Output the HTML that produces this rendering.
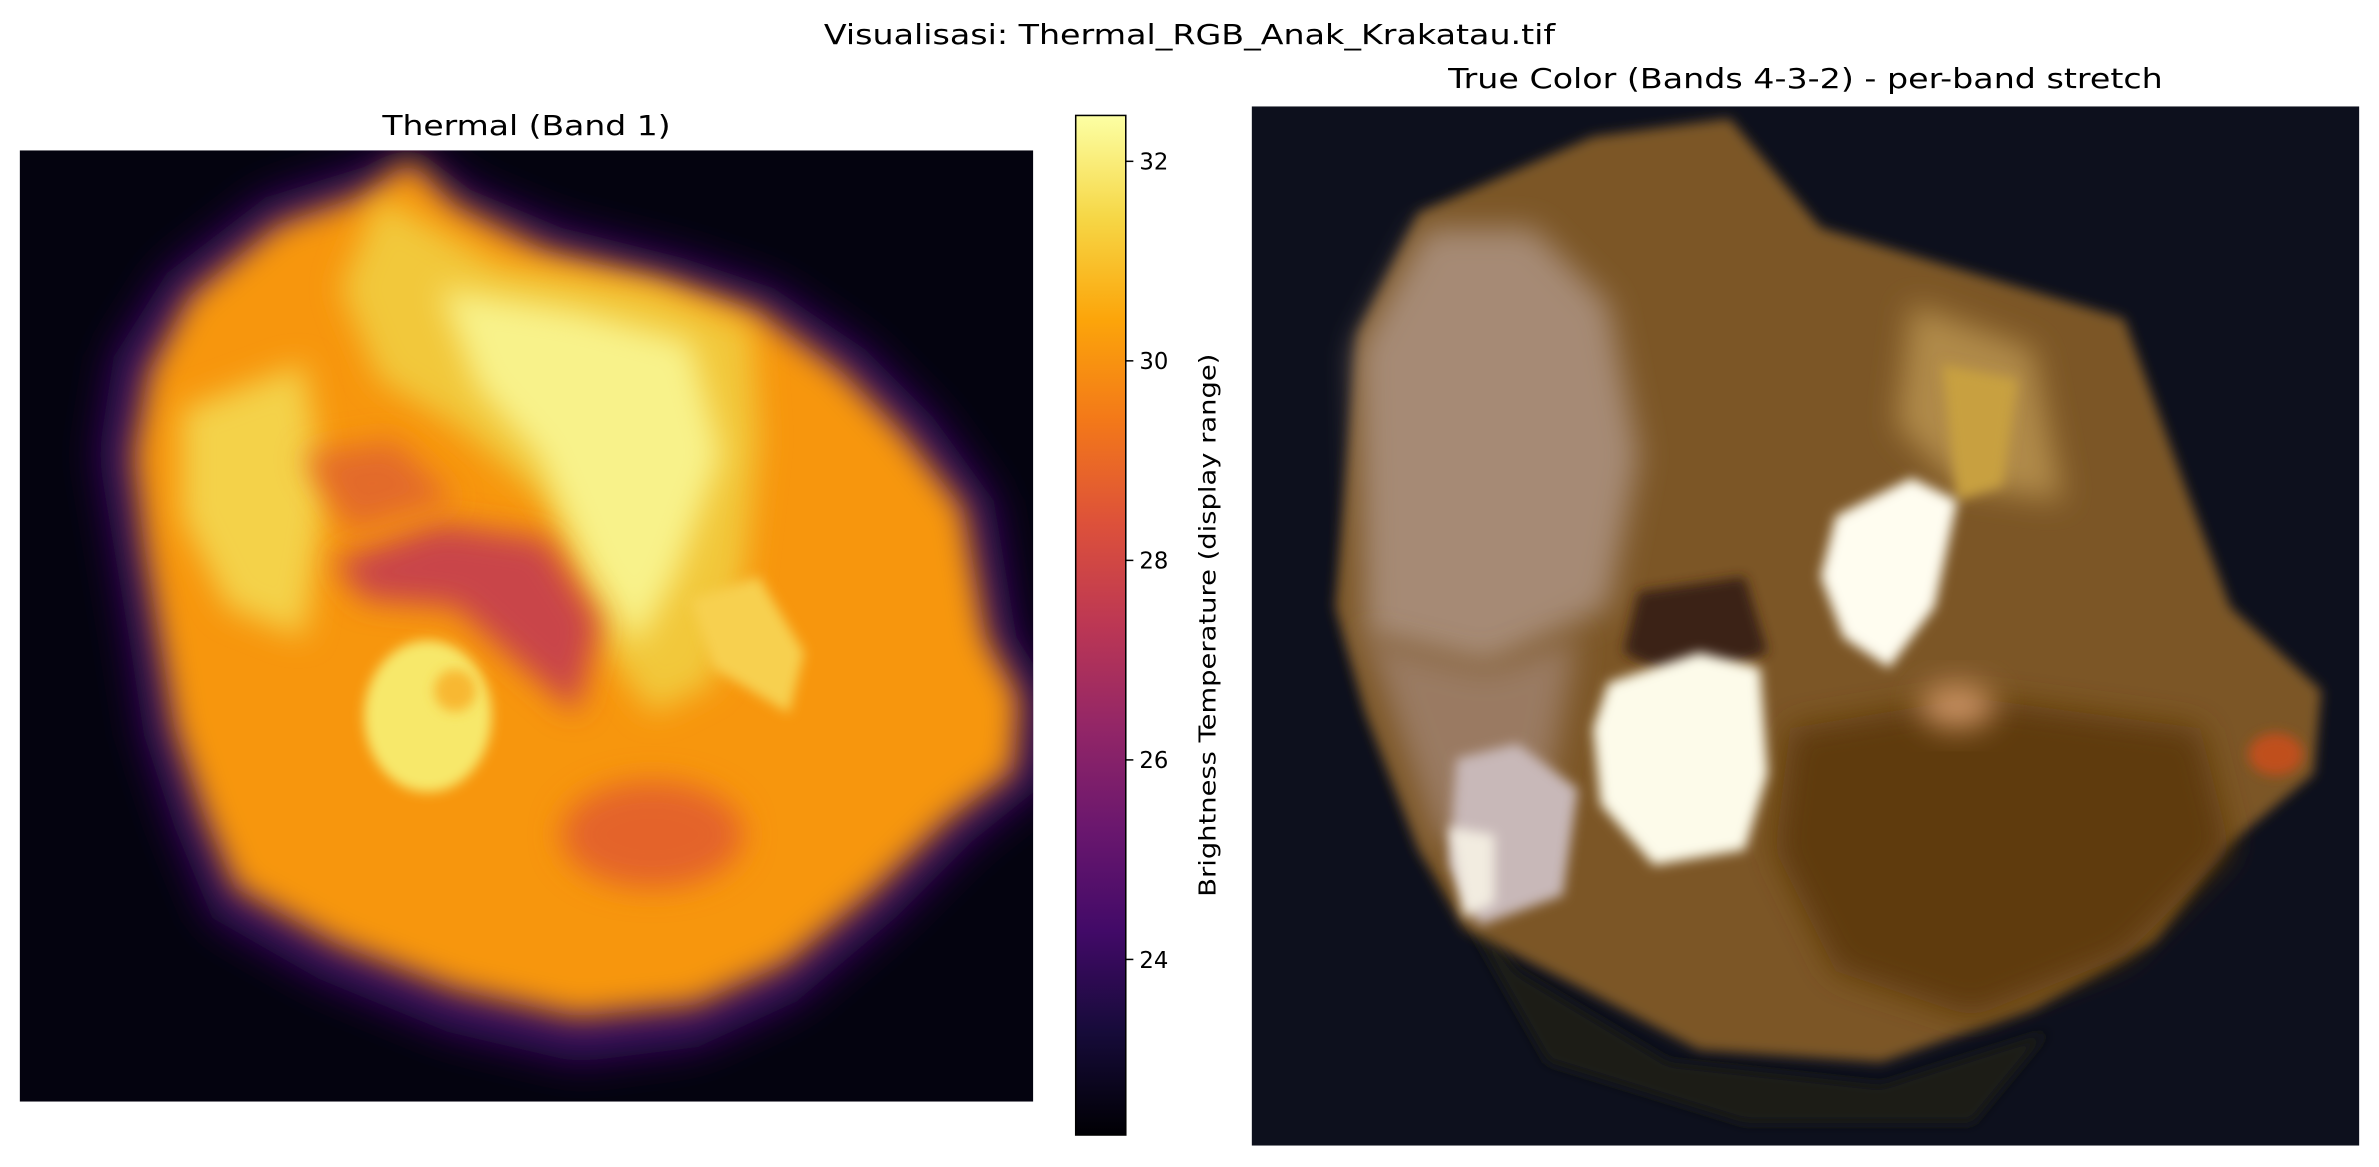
<!DOCTYPE html>
<html><head><meta charset="utf-8"><style>
html,body{margin:0;padding:0;background:#fff;}
svg{display:block;font-family:"DejaVu Sans","Liberation Sans",sans-serif;}
</style></head><body>
<svg id="fig" width="2379" height="1167" viewBox="0 0 1568 769" xmlns="http://www.w3.org/2000/svg">
<defs>
  <linearGradient id="inferno" x1="0" y1="1" x2="0" y2="0">
    <stop offset="0" stop-color="#000004"/><stop offset="0.1" stop-color="#160b39"/>
    <stop offset="0.2" stop-color="#420a68"/><stop offset="0.3" stop-color="#6a176e"/>
    <stop offset="0.4" stop-color="#932667"/><stop offset="0.5" stop-color="#bc3754"/>
    <stop offset="0.6" stop-color="#dd513a"/><stop offset="0.7" stop-color="#f37819"/>
    <stop offset="0.8" stop-color="#fca50a"/><stop offset="0.9" stop-color="#f6d746"/>
    <stop offset="1" stop-color="#fcffa4"/>
  </linearGradient>
  <filter id="b12" x="-50%" y="-50%" width="200%" height="200%"><feGaussianBlur stdDeviation="10"/></filter>
  <filter id="b6" x="-50%" y="-50%" width="200%" height="200%"><feGaussianBlur stdDeviation="4"/></filter>
  <filter id="b15" x="-50%" y="-50%" width="200%" height="200%"><feGaussianBlur stdDeviation="13"/></filter>
  <clipPath id="clipL"><rect x="13" y="99" width="668" height="627"/></clipPath>
  <clipPath id="clipR"><rect x="825" y="70" width="730" height="685"/></clipPath>
</defs>

<text x="784" y="29" font-size="18" text-anchor="middle" textLength="482" lengthAdjust="spacingAndGlyphs">Visualisasi: Thermal_RGB_Anak_Krakatau.tif</text>

<!-- Thermal image -->
<g clip-path="url(#clipL)">
  <rect x="13" y="99" width="668" height="627" fill="#04030f"/>
  <polygon filter="url(#b15)" fill="#3a0c60" points="270,95 310,125 370,150 450,170 510,190 570,230 615,275 655,330 670,420 695,460 690,515 640,555 590,605 525,660 460,690 380,700 295,680 210,645 140,605 115,545 95,485 85,420 75,360 65,300 75,235 110,180 175,130 240,110"/>
  <polygon filter="url(#b12)" fill="#f7960f" points="270,105 300,135 360,165 440,185 500,205 555,245 595,285 635,335 650,420 672,460 668,508 625,540 575,588 518,635 458,662 380,670 300,652 222,622 155,585 135,538 115,480 105,420 95,360 88,300 98,245 125,195 183,148 240,128"/>
  <polygon filter="url(#b12)" fill="#f2c83a" points="250,130 330,175 430,190 495,215 500,290 490,380 470,450 430,470 400,430 360,330 300,280 250,250 225,190"/>
  <polygon filter="url(#b12)" fill="#f8f28a" points="290,190 380,205 455,225 475,300 445,380 420,425 390,380 355,300 315,255"/>
  <polygon filter="url(#b12)" fill="#f4d24a" points="120,270 200,240 215,330 200,420 150,400 120,340"/>
  <polygon filter="url(#b12)" fill="#c94448" points="220,370 290,345 360,355 395,410 380,470 345,440 300,400 240,395"/>
  <polygon filter="url(#b12)" fill="#e36a2c" points="200,300 260,290 300,330 230,350"/>
  <ellipse filter="url(#b6)" cx="282" cy="472" rx="42" ry="50" fill="#f7e86a"/>
  <ellipse filter="url(#b6)" cx="300" cy="455" rx="14" ry="14" fill="#f8b830"/>
  <ellipse filter="url(#b12)" cx="430" cy="550" rx="60" ry="35" fill="#e4642c"/>
  <polygon filter="url(#b6)" fill="#f7d050" points="455,395 500,380 530,430 520,470 470,440"/>
</g>

<text x="347" y="89" font-size="18" text-anchor="middle" textLength="190" lengthAdjust="spacingAndGlyphs">Thermal (Band 1)</text>

<!-- Colorbar -->
<g id="cbar">
  <rect x="709" y="76" width="33" height="672" fill="url(#inferno)" stroke="#000" stroke-width="1"/>
</g>
<text transform="translate(801,412) rotate(-90)" font-size="15" text-anchor="middle" textLength="358" lengthAdjust="spacingAndGlyphs">Brightness Temperature (display range)</text>

<!-- True color image -->
<g clip-path="url(#clipR)">
  <rect x="825" y="70" width="730" height="685" fill="#0d101d"/>
  <polygon filter="url(#b6)" fill="#1a1f18" points="940,560 1000,640 1100,700 1240,715 1350,680 1300,740 1150,740 1020,700"/>
  <polygon filter="url(#b6)" fill="#7c5628" points="880,400 895,220 935,140 1050,90 1140,78 1200,150 1300,180 1400,210 1440,320 1470,400 1530,455 1525,510 1465,560 1420,620 1340,665 1240,700 1120,692 1040,650 965,612 935,560 900,470"/>
  <polygon filter="url(#b12)" fill="#a68a74" points="895,230 940,150 1010,150 1060,200 1080,300 1060,400 980,440 900,420"/>
  <polygon filter="url(#b12)" fill="#9a7a62" points="900,420 980,440 1040,420 1020,520 950,560"/>
  <polygon filter="url(#b12)" fill="#b08a48" points="1260,200 1340,230 1360,330 1290,320 1250,280"/>
  <polygon filter="url(#b12)" fill="#5e3a10" points="1180,480 1300,460 1450,480 1470,560 1400,630 1300,670 1210,640 1170,560"/>
  <polygon filter="url(#b6)" fill="#c8a040" points="1280,240 1330,250 1320,320 1290,330"/>
  <polygon filter="url(#b6)" fill="#fffdf0" points="1210,340 1260,315 1290,330 1275,400 1245,440 1215,420 1200,380"/>
  <polygon filter="url(#b6)" fill="#3a2412" points="1080,390 1150,380 1165,430 1110,450 1070,430"/>
  <polygon filter="url(#b6)" fill="#fdfbea" points="1060,450 1120,430 1160,440 1165,510 1150,560 1090,570 1055,530 1050,480"/>
  <polygon filter="url(#b6)" fill="#c8b8b8" points="960,500 1000,490 1040,520 1030,590 975,610 955,570"/>
  <polygon filter="url(#b6)" fill="#f2ece0" points="955,545 985,550 985,595 965,605"/>
  <ellipse filter="url(#b6)" cx="1500" cy="497" rx="18" ry="14" fill="#c0501a"/>
  <ellipse filter="url(#b12)" cx="1290" cy="465" rx="25" ry="15" fill="#c89060"/>
</g>
<text x="1190" y="58" font-size="18" text-anchor="middle" textLength="471" lengthAdjust="spacingAndGlyphs">True Color (Bands 4-3-2) - per-band stretch</text>

<script>
const cbTicks = [24, 26, 28, 30, 32];
const cbTickLabels = ["24", "26", "28", "30", "32"];
const cbMin = 22.24, cbMax = 32.46;
const cbTop = 76, cbBottom = 748, cbRight = 742;
function yScale(v){ return cbBottom - (v - cbMin) / (cbMax - cbMin) * (cbBottom - cbTop); }
const ns = "http://www.w3.org/2000/svg";
const g = document.getElementById('cbar');
cbTicks.forEach((t, i) => {
  const y = yScale(t);
  const ln = document.createElementNS(ns, 'line');
  ln.setAttribute('x1', cbRight); ln.setAttribute('x2', cbRight + 5);
  ln.setAttribute('y1', y); ln.setAttribute('y2', y);
  ln.setAttribute('stroke', '#000'); ln.setAttribute('stroke-width', '1');
  
  
  g.appendChild(ln);
  const tx = document.createElementNS(ns, 'text');
  tx.setAttribute('x', cbRight + 9); tx.setAttribute('y', y + 5.5);
  tx.setAttribute('font-size', '15');
  tx.textContent = cbTickLabels[i];
  
  
  g.appendChild(tx);
});
</script>
</svg>
</body></html>
